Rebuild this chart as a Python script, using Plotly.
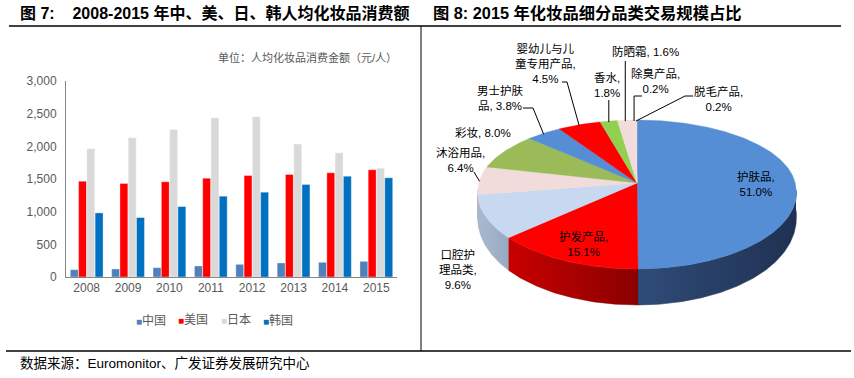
import numpy as np
import plotly.graph_objects as go

# ---------------- data ----------------
years = ['2008', '2009', '2010', '2011', '2012', '2013', '2014', '2015']
china = [112, 123, 143, 169, 194, 215, 225, 240]
usa = [1467, 1431, 1457, 1513, 1554, 1569, 1595, 1641]
japan = [1963, 2131, 2259, 2438, 2453, 2034, 1901, 1666]
korea = [981, 910, 1078, 1237, 1298, 1416, 1544, 1518]
series_names = ['中国', '美国', '日本', '韩国']
yticks = [0, 500, 1000, 1500, 2000, 2500, 3000]

pie_labels = ['护肤品', '护发产品', '口腔护理品类', '沐浴用品', '彩妆', '男士护肤品',
              '婴幼儿与儿童专用产品', '香水', '防晒霜', '除臭产品', '脱毛产品']
pie_values = [51.0, 15.1, 9.6, 6.4, 8.0, 3.8, 4.5, 1.8, 1.6, 0.2, 0.2]

# ---------------- styles ----------------
W, H = 854, 378
FONT = "Liberation Sans, Arial, Noto Sans CJK SC"
series_colors = ['#4F81BD', '#FF0000', '#D9D9D9', '#0070C0']
top_colors = ['#558ED5', '#FF0000', '#C6D9F1', '#F2DCDB', '#9BBB59', '#558ED5',
              '#FF0000', '#92D050', '#F2DCDB', '#F2DCDB', '#F2DCDB']
side_scales = [
    ['#2F4C78', '#1F3152'], ['#C80000', '#8A0000'], ['#A9B9CF', '#98AAC2'],
    ['#C9B3B2', '#B9A3A2'], ['#7F9A48', '#6E853E'], ['#3F6AA0', '#355A88'],
    ['#C40000', '#8A0000'], ['#78AC40', '#689838'], ['#C9B3B2', '#B9A3A2'],
    ['#C9B3B2', '#B9A3A2'], ['#C9B3B2', '#B9A3A2'],
]
# line breaks / separators of the pie labels (layout only)
disp_names = ['护肤品', '护发产品', '口腔护<br>理品类', '沐浴用品', '彩妆', '男士护肤<br>品',
              '婴幼儿与儿<br>童专用产品', '香水', '防晒霜', '除臭产品', '脱毛产品']
disp_sep = ['<br>', '<br>', '<br>', '<br>', ' ', ' ', '<br>', '<br>', ' ', '<br>', '<br>']
label_pos = [(756, 184), (583, 244), (458, 269), (460, 160), (483, 133), (500, 98),
             (545, 64), (607, 85), (645, 51), (655, 81), (718, 99)]
leaders = {
    3: [(474, 172)],
    5: [(523, 108), (533, 108)],
    6: [(562, 82), (567, 82)],
    7: [('edge', 100)],
    8: [('edge', 61)],
    9: [(642, 96), ('edge', 96)],
    10: [(693, 96), (685, 96)],
}
LEG_X0, LEG_STEP, LEG_Y = 134, 42.3, 320

# pie geometry (pixels)
CX, CY, AF, AN, BF, BN = 637, 190, 159, 162, 70, 79
APEX = (637, 183)


def px(x):
    return x / W


def py(y):
    return 1 - y / H


def top_pt(t):
    r = np.radians(t)
    c = np.cos(r)
    b = np.where(c > 0, BF, BN)
    a = np.where(c > 0, AF, AF + (AN - AF) * np.sqrt(np.abs(np.minimum(c, 0))))
    return CX + a * np.sin(r), CY - b * c


def depth(t):
    return 20 + 16 * np.sqrt(np.maximum(0, -np.cos(np.radians(t))))


fig = go.Figure()

# ---------------- left: grouped bars ----------------
for name, vals, col in zip(series_names, [china, usa, japan, korea], series_colors):
    fig.add_trace(go.Bar(x=years, y=vals, name=name, marker_color=col,
                         marker_line=dict(color='rgba(255,255,255,0.6)', width=0.6),
                         showlegend=False, hoverinfo='x+y+name'))

# ---------------- right: 3D-looking pie ----------------
total = sum(pie_values)
cum = np.concatenate([[0], np.cumsum(pie_values)]) / total * 360.0

# side walls (front half only)
for i in range(len(pie_values)):
    s, e = max(cum[i], 90), min(cum[i + 1], 270)
    if e <= s:
        continue
    t = np.linspace(s, e, max(4, int((e - s) * 2)))
    xt, yt = top_pt(t)
    yb = yt + depth(t)
    xs = np.concatenate([xt, xt[::-1]])
    ys = np.concatenate([yt, yb[::-1]])
    c0, c1 = side_scales[i]
    fig.add_trace(go.Scatter(x=xs, y=ys, xaxis='x2', yaxis='y2', mode='lines',
                             fill='toself', line=dict(width=0.5, color=c1),
                             fillgradient=dict(type='horizontal',
                                               colorscale=[[0, c0], [1, c1]]),
                             hoverinfo='skip', showlegend=False))

# top faces
for i in range(len(pie_values)):
    t = np.linspace(cum[i], cum[i + 1], max(3, int((cum[i + 1] - cum[i]) * 2)))
    xt, yt = top_pt(t)
    xs = np.concatenate([[APEX[0]], xt, [APEX[0]]])
    ys = np.concatenate([[APEX[1]], yt, [APEX[1]]])
    fig.add_trace(go.Scatter(x=xs, y=ys, xaxis='x2', yaxis='y2', mode='lines',
                             fill='toself', fillcolor=top_colors[i],
                             line=dict(width=0.4, color=top_colors[i]),
                             name=pie_labels[i], hoverinfo='name', showlegend=False))

# leader lines
for i, pts in leaders.items():
    mid = (cum[i] + cum[i + 1]) / 2
    ex, ey = top_pt(mid)
    ex, ey = float(ex), float(ey)
    xs, ys = [], []
    for p in pts:
        xs.append(ex if p[0] == 'edge' else p[0])
        ys.append(p[1])
    xs.append(ex)
    ys.append(ey + 1)
    fig.add_trace(go.Scatter(x=xs, y=ys, xaxis='x2', yaxis='y2', mode='lines',
                             line=dict(width=1, color='black'),
                             hoverinfo='skip', showlegend=False))

annotations = []
for i, (lx, ly) in enumerate(label_pos):
    annotations.append(dict(x=lx, y=ly, xref='x2', yref='y2', showarrow=False,
                            text=f"{disp_names[i]},{disp_sep[i]}{pie_values[i]:.1f}%",
                            font=dict(family=FONT, size=11.5, color='#000000'),
                            align='center'))

# titles
annotations.append(dict(x=px(18), y=py(13), xref='paper', yref='paper', xanchor='left',
                        yanchor='middle', showarrow=False,
                        text='<b>图 7:\u00a0\u00a0\u00a0\u00a02008-2015 年中、美、日、韩人均化妆品消费额</b>',
                        font=dict(family=FONT, size=16, color='#000000')))
annotations.append(dict(x=px(431), y=py(13), xref='paper', yref='paper', xanchor='left',
                        yanchor='middle', showarrow=False,
                        text='<b>图 8:\u00a02015 年化妆品细分品类交易规模占比</b>',
                        font=dict(family=FONT, size=16.3, color='#000000')))
annotations.append(dict(x=px(399), y=py(57), xref='paper', yref='paper', xanchor='right',
                        yanchor='middle', showarrow=False,
                        text='单位：人均化妆品消费金额（元/人）',
                        font=dict(family=FONT, size=11, color='#595959')))
annotations.append(dict(x=px(18), y=py(363), xref='paper', yref='paper', xanchor='left',
                        yanchor='middle', showarrow=False,
                        text='数据来源：Euromonitor、广发证券发展研究中心',
                        font=dict(family=FONT, size=13.5, color='#000000')))
# legend (one entry per series)
for k, (n, c) in enumerate(zip(series_names, series_colors)):
    annotations.append(dict(x=px(LEG_X0 + k * LEG_STEP), y=py(LEG_Y), xref='paper',
                            yref='paper', xanchor='left', yanchor='middle', showarrow=False,
                            text=f"<span style='color:{c};font-size:10px'>■</span>{n}",
                            font=dict(family=FONT, size=12, color='#595959')))

shapes = [
    dict(type='line', xref='paper', yref='paper', x0=px(9), x1=px(841), y0=py(26), y1=py(26),
         line=dict(color='black', width=1.5)),
    dict(type='line', xref='paper', yref='paper', x0=px(421), x1=px(421), y0=py(26), y1=py(351),
         line=dict(color='black', width=1)),
    dict(type='line', xref='paper', yref='paper', x0=px(6), x1=px(851), y0=py(351), y1=py(351),
         line=dict(color='black', width=1.5)),
]

fig.update_layout(
    template='none',
    width=W, height=H, margin=dict(l=0, r=0, t=0, b=0, pad=0, autoexpand=False),
    paper_bgcolor='white', plot_bgcolor='rgba(0,0,0,0)',
    barmode='group', bargap=0.2, bargroupgap=0.04,
    annotations=annotations, shapes=shapes,
    xaxis=dict(type='category', domain=[px(66), px(397)], showline=True,
               linecolor='#868686', linewidth=1,
               ticks='', tickfont=dict(family=FONT, size=12, color='#595959'),
               showgrid=False, zeroline=False, fixedrange=True, automargin=False),
    yaxis=dict(domain=[py(277), py(81)], range=[0, 3000], tickvals=yticks,
               tickformat=',', showline=True, linecolor='#868686', linewidth=1,
               ticks='', ticklabelstandoff=6,
               tickfont=dict(family=FONT, size=12, color='#595959'),
               showgrid=False, zeroline=False, fixedrange=True, automargin=False),
    xaxis2=dict(domain=[px(421), 1], range=[421, 854], visible=False, fixedrange=True,
                anchor='y2', automargin=False),
    yaxis2=dict(domain=[0, 1], range=[378, 0], visible=False, fixedrange=True,
                anchor='x2', automargin=False),
    showlegend=False,
)

fig.write_html("out.html", config={'displayModeBar': False},
               post_script="document.body.style.margin='0px';"
                           "document.body.style.overflow='hidden';")
